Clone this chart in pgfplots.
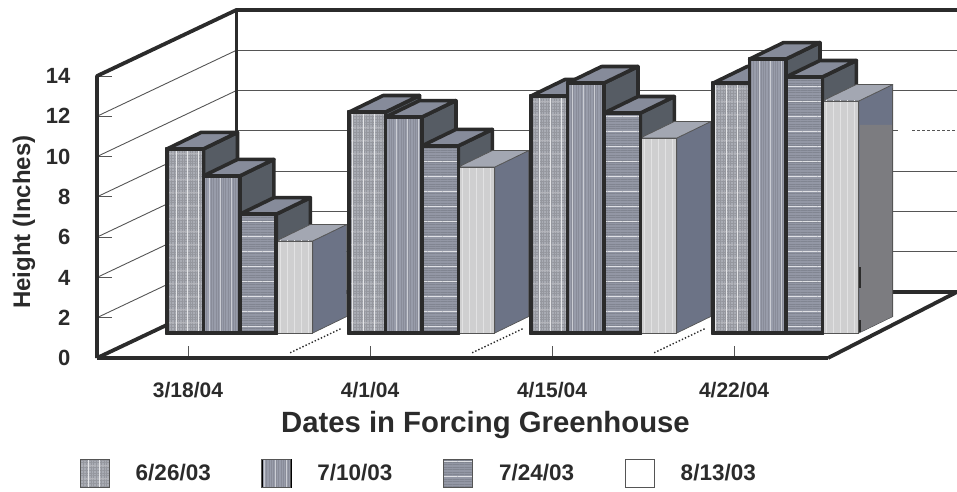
\documentclass[border=0pt]{standalone}
\usepackage{pgfplots}
\pgfplotsset{compat=1.18}
\usepackage{fontspec}
\setmainfont{Liberation Sans}
\usetikzlibrary{patterns.meta}
\definecolor{ink}{HTML}{2B2B2B}
\definecolor{grid}{HTML}{555555}
\definecolor{fa}{HTML}{A9ACB4}
\definecolor{fb}{HTML}{989CAA}
\definecolor{fc}{HTML}{9397A5}
\definecolor{fd}{HTML}{CFCFD0}
\definecolor{topdark}{HTML}{868B9A}
\definecolor{topd}{HTML}{A3A7B2}
\definecolor{sidedark}{HTML}{565C64}
\definecolor{sided}{HTML}{6C7386}
\definecolor{sidelow}{HTML}{7C7C80}
\newcommand{\W}{0.2}
\newcommand{\B}{1.24}
\newcommand{\DX}{0.187}
\newcommand{\DY}{0.82}
\tikzset{
 edgeA/.style={draw=ink,line width=3.6pt,line join=round},
 edgeD/.style={draw=grid,line width=.7pt,line join=round},
 patA/.style={preaction={fill=fa},
   preaction={pattern={Lines[angle=0,distance=2.6pt,line width=.5pt]},pattern color=fa!88!black},
   preaction={pattern={Lines[angle=90,distance=2.6pt,line width=.5pt]},pattern color=fa!88!black},
   preaction={pattern={Lines[angle=0,distance=13pt,line width=.5pt]},pattern color=white!70!fa},
   preaction={pattern={Lines[angle=90,distance=11pt,line width=.5pt]},pattern color=white!70!fa}},
 patB/.style={preaction={fill=fb},
   preaction={pattern={Lines[angle=90,distance=2.4pt,line width=.5pt]},pattern color=fb!90!black},
   preaction={pattern={Lines[angle=90,distance=11pt,line width=.6pt]},pattern color=white!50!fb}},
 patC/.style={preaction={fill=fc},
   preaction={pattern={Lines[angle=0,distance=2.4pt,line width=.5pt]},pattern color=fc!88!black},
   preaction={pattern={Lines[angle=0,distance=15pt,line width=.6pt]},pattern color=white!70!fc}},
 patD/.style={preaction={fill=fd},
   preaction={pattern={Lines[angle=90,distance=7pt,line width=.5pt]},pattern color=white!40!fd}},
}
% left edge, value, front style, edge style, top fill, side fill
\newcommand{\tdbar}[6]{%
 \pgfmathsetmacro\xa{#1}\pgfmathsetmacro\xb{#1+\W}%
 \pgfmathsetmacro\xc{\xb+\DX}\pgfmathsetmacro\xd{\xa+\DX}%
 \pgfmathsetmacro\ya{\B}\pgfmathsetmacro\yb{\B+#2}%
 \pgfmathsetmacro\yc{\yb+\DY}\pgfmathsetmacro\ye{\ya+\DY}%
 \edef\tmp{\noexpand\addplot[forget plot,#4,fill=#6] coordinates {(\xb,\ya) (\xc,\ye) (\xc,\yc) (\xb,\yb)} -- cycle;
 \noexpand\addplot[forget plot,#4,fill=#5] coordinates {(\xa,\yb) (\xd,\yc) (\xc,\yc) (\xb,\yb)} -- cycle;
 \noexpand\addplot[forget plot,#4,#3] coordinates {(\xa,\ya) (\xb,\ya) (\xb,\yb) (\xa,\yb)} -- cycle;}\tmp}
\newcommand{\tdgroup}[5]{%
 \pgfmathsetmacro\ga{#1-0.115}\pgfmathsetmacro\gb{#1+0.085}\pgfmathsetmacro\gc{#1+0.285}\pgfmathsetmacro\gd{#1+0.485}%
 \edef\gA{\ga}\edef\gB{\gb}\edef\gC{\gc}\edef\gD{\gd}%
 \tdbar{\gA}{#2}{patA}{edgeA}{topdark}{sidedark}%
 \tdbar{\gB}{#3}{patB}{edgeA}{topdark}{sidedark}%
 \tdbar{\gC}{#4}{patC}{edgeA}{topdark}{sidedark}%
 \tdbar{\gD}{#5}{patD}{edgeD}{topd}{sided}%
 \pgfmathsetmacro\xr{\gD}\pgfmathsetmacro\yr{\B+#4}%
 \edef\tmp{\noexpand\addplot[forget plot,draw=ink,line width=3.6pt,line join=round] coordinates {(\xr,\yr) (\xr,\B) (\gC,\B)};}\tmp}
\begin{document}
\begin{tikzpicture}
\path[use as bounding box] (0,0) rectangle (957pt,491pt);
\begin{axis}[
 at={(97pt,133pt)},anchor=south west,scale only axis,
 width=731pt,height=282pt,
 xmin=-0.5,xmax=3.516,ymin=0,ymax=14,clip=false,
 axis lines*=left,
 axis line style={draw=ink,line width=3.8pt},
 xtick={0,1,2,3},
 xticklabels={3/18/04,4/1/04,4/15/04,4/22/04},
 ytick={0,2,...,14},
 tick style={draw=grid,line width=.9pt},
 xtick style={/pgfplots/major tick length=12pt},
 ytick style={/pgfplots/major tick length=15pt},
 /pgf/number format/assume math mode=true,
 yticklabel style={font=\bfseries\fontsize{22}{26}\selectfont,color=ink,xshift=-23pt},
 xticklabel style={font=\bfseries\fontsize{21}{25}\selectfont,color=ink,yshift=-21pt},
 xlabel={Dates in Forcing Greenhouse},
 ylabel={Height (Inches)},
 every axis x label/.style={at={(axis description cs:0.5314,-0.238)},anchor=center,font=\bfseries\fontsize{29.3}{34}\selectfont,color=ink},
 every axis y label/.style={at={(axis description cs:-0.1,0.482)},anchor=center,rotate=90,font=\bfseries\fontsize{24}{28}\selectfont,color=ink},
 legend columns=4,
 legend style={draw=none,fill=none,at={(axis description cs:-0.028,-0.408)},anchor=west,
   font=\bfseries\fontsize{22.5}{26}\selectfont,text=ink,
   /tikz/every even column/.append style={column sep=48.6pt},
   /tikz/every odd column/.append style={column sep=24pt}},
]
% left wall and back wall grid
\addplot[forget plot,draw=grid,line width=.9pt] coordinates {(-0.5,2) (0.2665,5.28)};
\addplot[forget plot,draw=grid,line width=.9pt] coordinates {(-0.5,4) (0.2665,7.28)};
\addplot[forget plot,draw=grid,line width=.9pt] coordinates {(-0.5,6) (0.2665,9.28)};
\addplot[forget plot,draw=grid,line width=.9pt] coordinates {(-0.5,8) (0.2665,11.28)};
\addplot[forget plot,draw=grid,line width=.9pt] coordinates {(-0.5,10) (0.2665,13.28)};
\addplot[forget plot,draw=grid,line width=.9pt] coordinates {(-0.5,12) (0.2665,15.28)};
\addplot[forget plot,draw=grid,line width=.9pt] coordinates {(0.2665,5.28) (4.225,5.28)};
\addplot[forget plot,draw=grid,line width=.9pt] coordinates {(0.2665,7.28) (4.225,7.28)};
\addplot[forget plot,draw=grid,line width=.9pt] coordinates {(0.2665,9.28) (4.225,9.28)};
\addplot[forget plot,draw=grid,line width=.9pt] coordinates {(0.2665,11.28) (3.9,11.28)};
\addplot[forget plot,draw=grid,line width=.9pt,densely dashed] coordinates {(3.98,11.28) (4.225,11.28)};
\addplot[forget plot,draw=grid,line width=.9pt] coordinates {(0.2665,13.28) (4.225,13.28)};
\addplot[forget plot,draw=grid,line width=.9pt] coordinates {(0.2665,15.28) (4.225,15.28)};
% thick frame
\addplot[forget plot,draw=ink,line width=3.8pt,line join=round] coordinates {(-0.5,0) (-0.5,14) (0.2665,17.28) (4.225,17.28)};
\addplot[forget plot,draw=ink,line width=3pt,line join=round] coordinates {(0.2665,17.28) (0.2665,3.28)};
\addplot[forget plot,draw=ink,line width=3.8pt,line join=round] coordinates {(-0.5,0) (0.2665,3.28) (4.225,3.28)};
\addplot[forget plot,draw=ink,line width=3.8pt,line join=round] coordinates {(3.516,0) (4.225,3.28)};
% dotted floor dividers
\addplot[forget plot,draw=ink,line width=1.4pt,dotted] coordinates {(0.561,0.26) (0.845,1.48)};
\addplot[forget plot,draw=ink,line width=1.4pt,dotted] coordinates {(1.561,0.26) (1.845,1.48)};
\addplot[forget plot,draw=ink,line width=1.4pt,dotted] coordinates {(2.561,0.26) (2.845,1.48)};
% bars: 6/26/03, 7/10/03, 7/24/03, 8/13/03 at each date
\tdgroup{0}{9.14}{7.80}{5.90}{4.57}
\tdgroup{1}{10.97}{10.72}{9.29}{8.24}
\tdgroup{2}{11.77}{12.41}{10.92}{9.68}
\tdgroup{3}{12.41}{13.60}{12.71}{11.52}
% shading and scan marks on the last bar's side
\addplot[forget plot,fill=sidelow,draw=none] coordinates {(3.69,1.28) (3.87,2.07) (3.87,11.57) (3.69,11.57)} -- cycle;
\addplot[forget plot,draw=grid,line width=.7pt] coordinates {(3.872,2.06) (3.872,13.4)};
\addplot[forget plot,draw=ink,line width=2pt] coordinates {(3.69,3.5) (3.69,4.5)};
\addplot[forget plot,draw=ink,line width=2pt] coordinates {(3.69,1.3) (3.69,1.9)};
% legend
\addlegendimage{legend image code/.code={\path[patA,draw=grid,line width=1pt] (0pt,-14pt) rectangle (29pt,14pt);}}
\addlegendentry{6/26/03}
\addlegendimage{legend image code/.code={\path[patB,draw=grid,line width=1pt] (0pt,-14pt) rectangle (29pt,14pt);}}
\addlegendentry{7/10/03}
\addlegendimage{legend image code/.code={\path[patC,draw=grid,line width=1pt] (0pt,-14pt) rectangle (29pt,14pt);}}
\addlegendentry{7/24/03}
\addlegendimage{legend image code/.code={\path[draw=grid,line width=1pt,fill=white] (0pt,-14pt) rectangle (29pt,14pt);}}
\addlegendentry{8/13/03}
\end{axis}
\end{tikzpicture}
\end{document}
